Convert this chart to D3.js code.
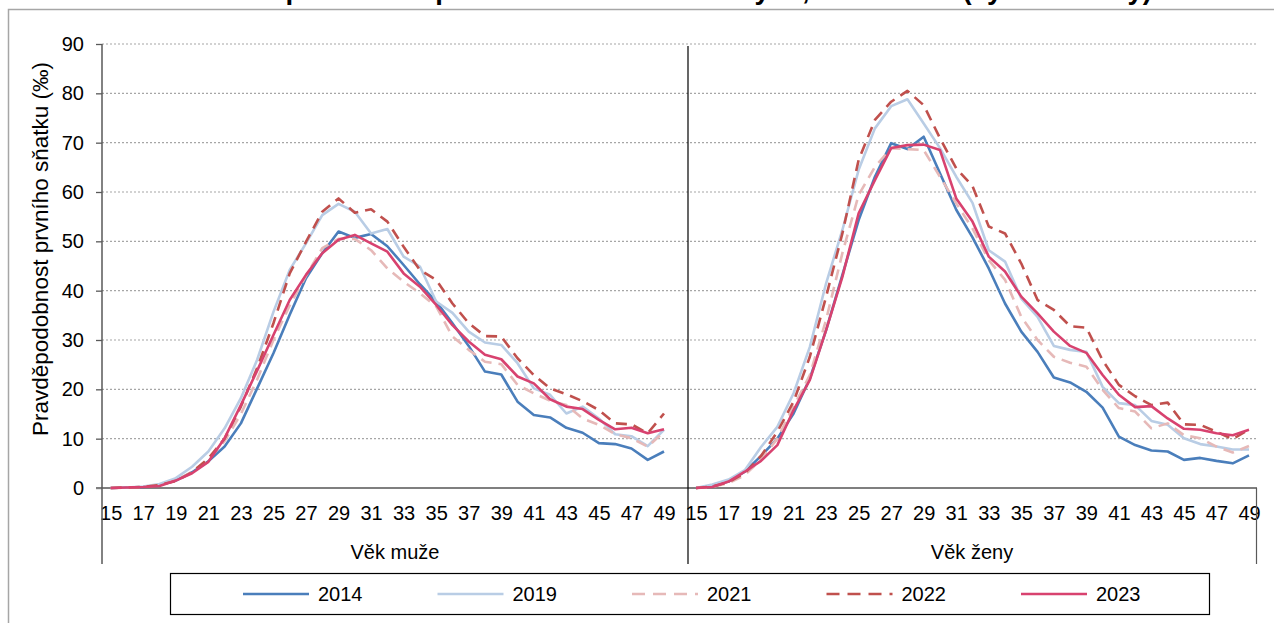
<!DOCTYPE html>
<html>
<head>
<meta charset="utf-8">
<script src="https://cdn.jsdelivr.net/npm/d3@7"></script>
<style>
  body { margin: 0; background: #fff; }
</style>
</head>
<body>
<svg></svg>
<script>
// data (věk 15–49)
var vek = [15,16,17,18,19,20,21,22,23,24,25,26,27,28,29,30,31,32,33,34,35,36,37,38,39,40,41,42,43,44,45,46,47,48,49];
var vekPopisky = [15,17,19,21,23,25,27,29,31,33,35,37,39,41,43,45,47,49];
var yTicks = [0,10,20,30,40,50,60,70,80,90];
var roky = ["2014","2019","2021","2022","2023"];

// muži
var muzi2014 = [0,0.1,0.2,0.6,1.5,3.2,5.4,8.4,13.1,20.2,27.3,35.1,42.5,47.6,52.0,50.7,51.5,49.0,45.2,41.3,37.8,33.4,28.8,23.6,23.0,17.5,14.8,14.3,12.2,11.2,9.1,8.9,8.0,5.7,7.4];
var muzi2019 = [0,0.1,0.3,0.8,2.0,4.3,7.4,12.1,18.2,26.0,35.7,44.2,49.6,55.3,57.6,56.0,51.6,52.5,46.9,44.9,37.8,35.5,31.7,29.5,29.0,25.3,20.2,18.9,15.1,16.5,14.1,10.9,10.5,8.5,11.8];
var muzi2021 = [0,0.1,0.2,0.6,1.5,3.3,5.8,9.5,15.0,22.0,30.0,37.0,43.0,48.6,50.5,50.5,48.2,44.5,41.8,39.5,36.8,30.7,28.0,25.6,25.1,20.9,19.2,17.7,16.8,14.1,12.8,10.9,10.1,8.4,11.4];
var muzi2022 = [0,0.1,0.2,0.6,1.4,3.2,6.0,10.0,16.5,24.3,33.4,43.5,49.9,56.0,58.7,55.8,56.5,54.0,48.9,44.2,42.2,37.4,33.4,30.8,30.7,26.3,22.9,20.2,19.0,17.6,15.8,13.1,12.9,11.1,15.1];
var muzi2023 = [0,0.1,0.2,0.4,1.5,3.0,5.3,10.1,16.8,23.8,31.0,38.1,43.2,47.6,50.3,51.3,49.6,47.9,43.5,40.8,37.1,33.0,29.7,27.0,26.1,22.6,21.2,18.0,16.5,16.0,13.8,11.9,12.2,11.1,11.9];

// ženy
var zeny2014 = [0,0.4,1.3,3.3,6.5,10.0,15.1,22.2,32.0,43.2,54.3,63.1,69.9,68.7,71.2,63.8,56.4,50.8,44.5,37.4,31.7,27.6,22.4,21.4,19.5,16.3,10.4,8.7,7.6,7.4,5.7,6.1,5.5,5.0,6.6];
var zeny2019 = [0,0.7,1.7,3.6,8.3,12.4,19.2,28.6,41.5,52.3,64.5,72.9,77.4,78.8,73.9,68.9,63.1,57.8,48.2,45.9,38.4,34.7,28.8,28.0,27.6,20.5,17.2,16.8,13.6,12.8,10.1,8.9,8.4,7.8,7.8];
var zeny2021 = [0,0.2,1.0,2.6,5.8,10.0,16.5,22.9,34.1,47.6,59.4,65.1,68.9,68.7,68.5,63.1,57.7,52.6,46.2,42.2,34.7,30.0,26.6,25.4,24.6,19.9,16.2,15.5,12.1,13.1,10.7,10.1,8.4,7.2,8.5];
var zeny2022 = [0,0.3,1.2,3.0,6.5,11.4,17.5,26.6,38.8,51.6,66.5,74.6,78.3,80.5,77.6,70.9,64.8,61.2,53.0,51.6,45.5,38.1,36.1,32.8,32.5,25.9,20.9,18.6,16.8,17.3,12.9,12.8,11.4,9.9,11.9];
var zeny2023 = [0,0.2,1.3,3.3,5.5,8.7,15.8,21.9,32.0,42.8,55.7,62.4,68.9,69.5,69.6,68.5,58.7,54.0,46.9,43.9,38.8,35.4,31.7,28.8,27.4,22.9,18.9,16.4,16.6,14.1,12.0,11.8,11.1,10.7,11.8];

var muzi = [muzi2014, muzi2019, muzi2021, muzi2022, muzi2023];
var zeny = [zeny2014, zeny2019, zeny2021, zeny2022, zeny2023];

// styl řad
var BARVY = ["#4a7ebb","#b9cde5","#e6b9b8","#c0504d","#d8426f"];
var CARKY = [null, null, "11,7", "11,7", null];

var FONT = "'Liberation Sans', Arial, sans-serif";
var svg = null;
var svgwidth = 1274, svgheight = 623;

// měřítka
var y = d3.scaleLinear().domain([0, 90]).range([488, 44]);
var xMuzi = d3.scaleLinear().domain([15, 49]).range([110.7, 664]);
var xZeny = d3.scaleLinear().domain([15, 49]).range([696, 1249]);

function initialize(){
    svg = d3.select("svg")
        .attr("width", svgwidth)
        .attr("height", svgheight)
        .style("font-family", FONT)
    ;
    svg.append("rect").attr("width", svgwidth).attr("height", svgheight).attr("fill", "#fff");

    // rámeček grafu (ořezaný)
    svg.append("rect")
        .attr("x", 8.5).attr("y", 9.5)
        .attr("width", 1400).attr("height", 800)
        .attr("fill", "none")
        .attr("stroke", "#a6a6a6")
        .attr("stroke-width", 1.5)
    ;
    // nadpis – vidět jsou jen spodky písmen
    svg.append("text")
        .attr("x", 1152).attr("y", -1.5)
        .attr("text-anchor", "end")
        .style("font-size", "27.5px")
        .style("font-weight", "bold")
        .text("Pravděpodobnost prvního sňatku svobodných, 2014–2023 (vybrané roky)")
    ;
}

function show_axes(){
    // mřížka
    svg.append("g").selectAll("line")
        .data(yTicks.filter(function(d){ return d > 0; }))
        .enter()
        .append("line")
        .attr("x1", 102).attr("x2", 1257)
        .attr("y1", function(d){ return y(d); })
        .attr("y2", function(d){ return y(d); })
        .attr("stroke", "#a6a6a6")
        .attr("stroke-width", 1.2)
        .attr("stroke-dasharray", "2,2")
    ;

    // osa y
    var gy = svg.append("g")
        .attr("transform", "translate(102,0)")
        .call(d3.axisLeft(y).tickValues(yTicks).tickSize(6).tickPadding(12))
    ;
    gy.select(".domain").remove();
    gy.selectAll(".tick line").attr("stroke", "#595959").attr("stroke-width", 1.3);
    gy.selectAll("text").style("font-size", "20px").style("font-family", FONT).attr("fill", "#000");

    // osy x – popisky věku
    [xMuzi, xZeny].forEach(function(sc){
        var gx = svg.append("g")
            .attr("transform", "translate(0,488)")
            .call(d3.axisBottom(sc).tickValues(vekPopisky).tickSize(0).tickPadding(18).tickFormat(d3.format("d")))
        ;
        gx.select(".domain").remove();
        gx.selectAll("text").style("font-size", "20px").style("font-family", FONT).attr("fill", "#000");
    });

    // vodorovná osa
    svg.append("line")
        .attr("x1", 96).attr("x2", 1257)
        .attr("y1", 488).attr("y2", 488)
        .attr("stroke", "#7f7f7f")
        .attr("stroke-width", 1.8)
    ;
    // svislá osa a dělicí čáry skupin
    svg.append("line").attr("x1", 102).attr("x2", 102).attr("y1", 44).attr("y2", 564)
        .attr("stroke", "#595959").attr("stroke-width", 1.5);
    svg.append("line").attr("x1", 688).attr("x2", 688).attr("y1", 46).attr("y2", 564)
        .attr("stroke", "#000").attr("stroke-width", 1.2);
    svg.append("line").attr("x1", 1256.5).attr("x2", 1256.5).attr("y1", 488).attr("y2", 564)
        .attr("stroke", "#595959").attr("stroke-width", 1.2);

    // názvy skupin
    svg.append("text").attr("x", 395).attr("y", 559).attr("text-anchor", "middle")
        .style("font-size", "20px").text("Věk muže");
    svg.append("text").attr("x", 972).attr("y", 559).attr("text-anchor", "middle")
        .style("font-size", "20px").text("Věk ženy");

    // název osy y
    svg.append("text")
        .attr("transform", "translate(48,249) rotate(-90)")
        .attr("text-anchor", "middle")
        .style("font-size", "22.5px")
        .text("Pravděpodobnost prvního sňatku (‰)")
    ;
}

function show_lines(){
    var panely = [[muzi, xMuzi], [zeny, xZeny]];
    panely.forEach(function(p){
        var rady = p[0], sc = p[1];
        var line = d3.line()
            .x(function(d, i){ return sc(vek[i]); })
            .y(function(d){ return y(d); })
        ;
        svg.append("g").selectAll("path")
            .data(rady)
            .enter()
            .append("path")
            .attr("d", line)
            .attr("fill", "none")
            .attr("stroke", function(d, i){ return BARVY[i]; })
            .attr("stroke-width", 2.6)
            .attr("stroke-dasharray", function(d, i){ return CARKY[i]; })
            .attr("stroke-linejoin", "round")
        ;
    });
}

function show_legend(){
    svg.append("rect")
        .attr("x", 170.5).attr("y", 573.5)
        .attr("width", 1039).attr("height", 41)
        .attr("fill", "#fff")
        .attr("stroke", "#000")
        .attr("stroke-width", 1.2)
    ;
    var g = svg.append("g").selectAll("g")
        .data(roky)
        .enter()
        .append("g")
        .attr("transform", function(d, i){ return "translate(" + (243 + i*194.5) + ",594)"; })
    ;
    g.append("line")
        .attr("x1", 0).attr("x2", 66)
        .attr("stroke", function(d, i){ return BARVY[i]; })
        .attr("stroke-width", 2.6)
        .attr("stroke-dasharray", function(d, i){ return CARKY[i] ? "13,8" : null; })
    ;
    g.append("text")
        .attr("x", 75).attr("y", 7)
        .style("font-size", "20px")
        .text(function(d){ return d; })
    ;
}

initialize();
show_axes();
show_lines();
show_legend();
</script>
</body>
</html>
